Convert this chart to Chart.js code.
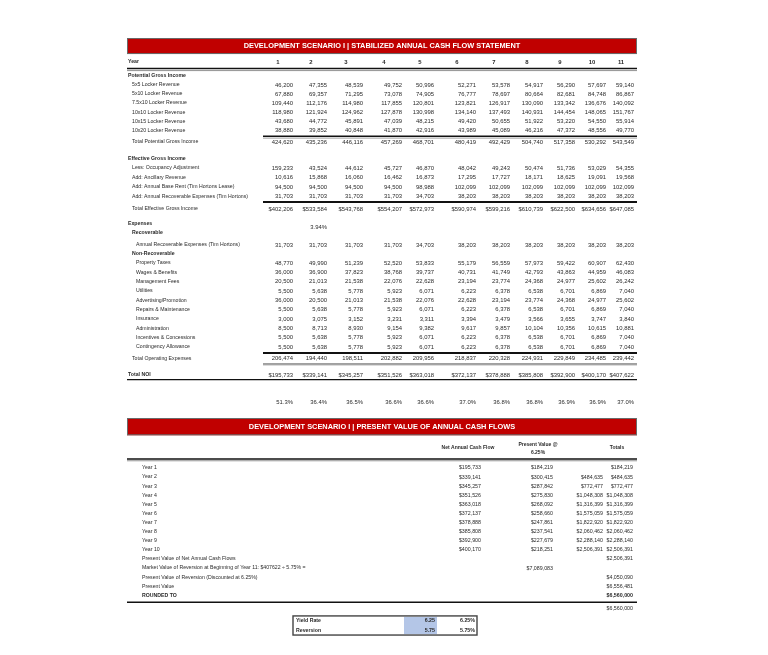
<!DOCTYPE html>
<html>
<head>
<meta charset="utf-8">
<script src="https://cdn.jsdelivr.net/npm/chart.js@4.4.1/dist/chart.umd.min.js"></script>
<style>
    html, body { margin: 0; padding: 0; background: #fff; }
    #wrap { position: relative; width: 768px; height: 655px; overflow: hidden; }
    #wrap canvas { position: absolute; }
</style>
</head>
<body>
<div id="wrap">
    <canvas id="flowChart"></canvas>
    <canvas id="pvChart"></canvas>
</div>
<script>
// ---------- data: stabilized annual cash flow ----------
const years = ['1', '2', '3', '4', '5', '6', '7', '8', '9', '10', '11'];

const pgiLabels = ['5x5 Locker Revenue', '5x10 Locker Revenue', '7.5x10 Locker Revenue', '10x10 Locker Revenue', '10x15 Locker Revenue', '10x20 Locker Revenue'];
const locker5x5 = [46200, 47355, 48539, 49752, 50996, 52271, 53578, 54917, 56290, 57697, 59140];
const locker5x10 = [67880, 69357, 71295, 73078, 74905, 76777, 78697, 80664, 82681, 84748, 86867];
const locker75x10 = [109440, 112176, 114980, 117855, 120801, 123821, 126917, 130090, 133342, 136676, 140092];
const locker10x10 = [118980, 121924, 124962, 127878, 130998, 134140, 137493, 140931, 144454, 148065, 151767];
const locker10x15 = [43680, 44772, 45891, 47039, 48215, 49420, 50655, 51922, 53220, 54550, 55914];
const locker10x20 = [38880, 39852, 40848, 41870, 42916, 43989, 45089, 46216, 47372, 48556, 49770];
const totalPgi = [424620, 435236, 446116, 457269, 468701, 480419, 492429, 504740, 517358, 530292, 543549];

const egiLabels = ['Less: Occupancy Adjustment', 'Add: Ancillary Revenue', 'Add: Annual Base Rent (Tim Hortons Lease)', 'Add: Annual Recoverable Expenses (Tim Hortons)'];
const occupancyAdj = [159233, 43524, 44612, 45727, 46870, 48042, 49243, 50474, 51736, 53029, 54355];
const ancillaryRev = [10616, 15868, 16060, 16462, 16873, 17295, 17727, 18171, 18625, 19091, 19568];
const baseRent = [94500, 94500, 94500, 94500, 98988, 102099, 102099, 102099, 102099, 102099, 102099];
const recoveries = [31703, 31703, 31703, 31703, 34703, 38203, 38203, 38203, 38203, 38203, 38203];
const totalEgi = [402206, 533584, 543768, 554207, 572973, 590974, 599216, 610739, 622500, 634656, 647085];

const recoverableRate = '3.94%';
const recoverableLabel = 'Annual Recoverable Expenses (Tim Hortons)';
const recoverableExp = [31703, 31703, 31703, 31703, 34703, 38203, 38203, 38203, 38203, 38203, 38203];

const nonRecLabels = ['Property Taxes', 'Wages & Benefits', 'Management Fees', 'Utilities', 'Advertising/Promotion', 'Repairs & Maintenance', 'Insurance', 'Administration', 'Incentives & Concessions', 'Contingency Allowance'];
const propertyTaxes = [48770, 49990, 51239, 52520, 53833, 55179, 56559, 57973, 59422, 60907, 62430];
const wages = [36000, 36900, 37823, 38768, 39737, 40731, 41749, 42793, 43863, 44959, 46083];
const mgmtFees = [20500, 21013, 21538, 22076, 22628, 23194, 23774, 24368, 24977, 25602, 26242];
const utilities = [5500, 5638, 5778, 5923, 6071, 6223, 6378, 6538, 6701, 6869, 7040];
const advertising = [36000, 20500, 21013, 21538, 22076, 22628, 23194, 23774, 24368, 24977, 25602];
const repairs = [5500, 5638, 5778, 5923, 6071, 6223, 6378, 6538, 6701, 6869, 7040];
const insurance = [3000, 3075, 3152, 3231, 3311, 3394, 3479, 3566, 3655, 3747, 3840];
const administration = [8500, 8713, 8930, 9154, 9382, 9617, 9857, 10104, 10356, 10615, 10881];
const incentives = [5500, 5638, 5778, 5923, 6071, 6223, 6378, 6538, 6701, 6869, 7040];
const contingency = [5500, 5638, 5778, 5923, 6071, 6223, 6378, 6538, 6701, 6869, 7040];
const totalOpex = [206474, 194440, 198511, 202882, 209956, 218837, 220328, 224931, 229849, 234485, 239442];
const totalNoi = [195733, 339141, 345257, 351526, 363018, 372137, 378888, 385808, 392900, 400170, 407622];
const expenseRatio = [51.3, 36.4, 36.5, 36.6, 36.6, 37.0, 36.8, 36.8, 36.9, 36.9, 37.0];

// ---------- data: present value of annual cash flows ----------
const pvYears = ['Year 1', 'Year 2', 'Year 3', 'Year 4', 'Year 5', 'Year 6', 'Year 7', 'Year 8', 'Year 9', 'Year 10'];
const netCashFlow = [195733, 339141, 345257, 351526, 363018, 372137, 378888, 385808, 392900, 400170];
const presentValue = [184219, 300415, 287842, 275830, 268092, 258660, 247861, 237541, 227679, 218251];
const runningTotal = [184219, 484635, 772477, 1048308, 1316399, 1575059, 1822920, 2060462, 2288140, 2506391];
const pvCashFlows = 2506391;
const reversionValue = 7089083;
const pvReversion = 4050090;
const pvTotal = 6556481;
const roundedValue = 6560000;
const rateLabels = ['Yield Rate', 'Reversion'];
const rateInputs = [6.25, 5.75];

// ---------- layout ----------
const FONT = '"Liberation Sans", Arial, sans-serif';
const F_LABEL = '5.2px ' + FONT;
const F_LABEL_B = 'bold 5.2px ' + FONT;
const F_HEAD_B = 'bold 5px ' + FONT;
const F_NUM = '5.9px ' + FONT;
const F_NUM_B = 'bold 5.9px ' + FONT;
const F_PV = '5.3px ' + FONT;
const F_PV_B = 'bold 5.3px ' + FONT;
const F_TITLE = 'bold 7.4px ' + FONT;
const RED = '#c00000';
const INK = '#2a2a2a';

const fmt = v => v.toLocaleString('en-US');
const money = v => '$' + v.toLocaleString('en-US');
const pct = v => v.toFixed(1) + '%';

// both sheets: x in px from canvas left, y in sheet rows
const topBox = { left: 120, top: 36, width: 530, height: 377, rowPx: 9.2 };
const topColRight = [173, 207, 243, 282, 314, 356, 390, 423, 455, 486, 514];
const topColCenter = [158, 191, 226, 264, 300, 337, 374, 407, 440, 472, 501];
const tableLeft = 7, tableRight = 517, numLeft = 143, titleCenter = 262;

const pvBox = { left: 120, top: 413, width: 530, height: 242, rowPx: 9.1 };

function cellRow(rowY, cells) {
    return {
        data: cells.map(c => ({ x: c.x, y: rowY })),
        texts: cells.map(c => c.text),
        aligns: cells.map(c => c.align || 'right'),
        fonts: cells.map(c => c.font || F_NUM),
        colors: cells.map(c => c.color || INK),
        pointRadius: 0,
        showLine: false
    };
}

function labelRow(rowY, label, labelX, labelFont, values, format) {
    const cells = [{ x: labelX, text: label, align: 'left', font: labelFont }];
    if (values) {
        values.forEach((v, i) => cells.push({ x: topColRight[i], text: format(v) }));
    }
    return cellRow(rowY, cells);
}

function buildTopSheet() {
    const ds = [];
    const l0 = 8, l1 = 12, l2 = 16;
    ds.push(cellRow(1.09, [{ x: titleCenter, text: 'DEVELOPMENT SCENARIO I | STABILIZED ANNUAL CASH FLOW STATEMENT', align: 'center', font: F_TITLE, color: '#fff' }]));
    ds.push(cellRow(2.83, [{ x: l0, text: 'Year', align: 'left', font: F_LABEL_B }].concat(
        years.map((y, i) => ({ x: topColCenter[i], text: y, align: 'center', font: F_NUM_B })))));

    ds.push(labelRow(4.35, 'Potential Gross Income', l0, F_LABEL_B));
    const pgi = [locker5x5, locker5x10, locker75x10, locker10x10, locker10x15, locker10x20];
    pgi.forEach((vals, i) => ds.push(labelRow(5.33 + i * 0.98, pgiLabels[i], l1, F_LABEL, vals, fmt)));
    ds.push(labelRow(11.52, 'Total Potential Gross Income', l1, F_LABEL, totalPgi, fmt));

    ds.push(labelRow(13.37, 'Effective Gross Income', l0, F_LABEL_B));
    const egi = [occupancyAdj, ancillaryRev, baseRent, recoveries];
    egi.forEach((vals, i) => ds.push(labelRow(14.35 + i * 1.03, egiLabels[i], l1, F_LABEL, vals, fmt)));
    ds.push(labelRow(18.8, 'Total Effective Gross Income', l1, F_LABEL, totalEgi, money));

    ds.push(labelRow(20.43, 'Expenses', l0, F_LABEL_B));
    ds.push(cellRow(20.8, [{ x: topColRight[1], text: recoverableRate }]));
    ds.push(labelRow(21.41, 'Recoverable', l1, F_LABEL_B));
    ds.push(labelRow(22.72, recoverableLabel, l2, F_LABEL, recoverableExp, fmt));
    ds.push(labelRow(23.7, 'Non-Recoverable', l1, F_LABEL_B));
    const nonRec = [propertyTaxes, wages, mgmtFees, utilities, advertising, repairs, insurance, administration, incentives, contingency];
    nonRec.forEach((vals, i) => ds.push(labelRow(24.67 + i * 1.014, nonRecLabels[i], l2, F_LABEL, vals, fmt)));
    ds.push(labelRow(35.05, 'Total Operating Expenses', l1, F_LABEL, totalOpex, fmt));
    ds.push(labelRow(36.85, 'Total NOI', l0, F_LABEL_B, totalNoi, money));
    ds.push(cellRow(39.78, expenseRatio.map((v, i) => ({ x: topColRight[i], text: pct(v) }))));

    return {
        datasets: ds,
        fills: [{ x0: tableLeft, x1: tableRight, y0: 0.22, y1: 1.96, color: RED, border: '#6a6a6a' }],
        rules: [
            { x0: tableLeft, x1: tableRight, y: 3.53, w: 1.6, color: '#111' },
            { x0: tableLeft, x1: tableRight, y: 3.76, w: 0.8, color: '#777' },
            { x0: numLeft, x1: tableRight, y: 10.9, w: 1.6, color: '#111' },
            { x0: numLeft, x1: tableRight, y: 11.1, w: 0.8, color: '#888' },
            { x0: numLeft, x1: tableRight, y: 18.04, w: 2, color: '#111' },
            { x0: numLeft, x1: tableRight, y: 34.46, w: 2, color: '#111' },
            { x0: numLeft, x1: tableRight, y: 35.62, w: 1, color: '#888' },
            { x0: numLeft, x1: tableRight, y: 35.74, w: 1, color: '#888' },
            { x0: tableLeft, x1: tableRight, y: 37.34, w: 1.2, color: '#111' }
        ]
    };
}

function buildPvSheet() {
    const ds = [];
    const labelX = 22, netRight = 361, pvRight = 433, totARight = 483, totBRight = 513;
    ds.push(cellRow(1.5, [{ x: titleCenter, text: 'DEVELOPMENT SCENARIO I | PRESENT VALUE OF ANNUAL CASH FLOWS', align: 'center', font: F_TITLE, color: '#fff' }]));
    ds.push(cellRow(3.85, [
        { x: 348, text: 'Net Annual Cash Flow', align: 'center', font: F_HEAD_B },
        { x: 497, text: 'Totals', align: 'center', font: F_HEAD_B }
    ]));
    ds.push(cellRow(3.45, [{ x: 418, text: 'Present Value @', align: 'center', font: F_HEAD_B }]));
    ds.push(cellRow(4.3, [{ x: 418, text: '6.25%', align: 'center', font: F_HEAD_B }]));

    pvYears.forEach((yr, i) => {
        const cells = [
            { x: labelX, text: yr, align: 'left', font: F_LABEL },
            { x: netRight, text: money(netCashFlow[i]), font: F_PV },
            { x: pvRight, text: money(presentValue[i]), font: F_PV }
        ];
        if (i > 0) cells.push({ x: totARight, text: money(runningTotal[i]), font: F_PV });
        cells.push({ x: totBRight, text: money(runningTotal[i]), font: F_PV });
        ds.push(cellRow(6.04 + i, cells));
    });

    ds.push(cellRow(16.04, [
        { x: labelX, text: 'Present Value of Net Annual Cash Flows', align: 'left', font: F_LABEL },
        { x: totBRight, text: money(pvCashFlows), font: F_PV }
    ]));
    ds.push(cellRow(17.04, [
        { x: labelX, text: 'Market Value of Reversion at Beginning of Year 11: $' + totalNoi[10] + ' \u00f7 ' + rateInputs[1].toFixed(2) + '% =', align: 'left', font: F_LABEL },
        { x: pvRight, text: money(reversionValue), font: F_PV }
    ]));
    ds.push(cellRow(18.04, [
        { x: labelX, text: 'Present Value of Reversion (Discounted at ' + rateInputs[0].toFixed(2) + '%)', align: 'left', font: F_LABEL },
        { x: totBRight, text: money(pvReversion), font: F_PV }
    ]));
    ds.push(cellRow(19.04, [
        { x: labelX, text: 'Present Value', align: 'left', font: F_LABEL },
        { x: totBRight, text: money(pvTotal), font: F_PV }
    ]));
    ds.push(cellRow(20.04, [
        { x: labelX, text: 'ROUNDED TO', align: 'left', font: F_LABEL_B },
        { x: totBRight, text: money(roundedValue), font: F_PV_B }
    ]));
    ds.push(cellRow(21.54, [{ x: totBRight, text: money(roundedValue), font: F_PV }]));

    rateLabels.forEach((lab, i) => {
        ds.push(cellRow(22.86 + i, [
            { x: 176, text: lab, align: 'left', font: F_LABEL_B },
            { x: 315, text: rateInputs[i].toFixed(2), font: F_PV_B },
            { x: 355, text: rateInputs[i].toFixed(2) + '%', font: F_PV_B }
        ]));
    });

    return {
        datasets: ds,
        fills: [
            { x0: tableLeft, x1: tableRight, y0: 0.55, y1: 2.45, color: RED, border: '#6a6a6a' },
            { x0: 284, x1: 317, y0: 22.4, y1: 24.3, color: '#b4c6e7' }
        ],
        boxes: [{ x0: 173, x1: 357, y0: 22.3, y1: 24.4, color: '#444', w: 1.4 }],
        rules: [
            { x0: tableLeft, x1: tableRight, y: 5.05, w: 1.6, color: '#111' },
            { x0: tableLeft, x1: tableRight, y: 5.25, w: 0.8, color: '#777' },
            { x0: tableLeft, x1: tableRight, y: 20.8, w: 1.4, color: '#111' }
        ]
    };
}

function makeSheetPlugin(sheet) {
    return {
        id: 'sheet',
        beforeDatasetsDraw(chart) {
            const ctx = chart.ctx;
            const px = v => chart.scales.x.getPixelForValue(v);
            const py = v => chart.scales.y.getPixelForValue(v);
            ctx.save();
            sheet.fills.forEach(f => {
                const x0 = px(f.x0), x1 = px(f.x1), y0 = py(f.y0), y1 = py(f.y1);
                ctx.fillStyle = f.color;
                ctx.fillRect(x0, y0, x1 - x0, y1 - y0);
                if (f.border) {
                    ctx.strokeStyle = f.border;
                    ctx.lineWidth = 1;
                    ctx.strokeRect(x0 + 0.5, y0 + 0.5, x1 - x0 - 1, y1 - y0 - 1);
                }
            });
            (sheet.boxes || []).forEach(b => {
                ctx.strokeStyle = b.color;
                ctx.lineWidth = b.w;
                ctx.strokeRect(px(b.x0), py(b.y0), px(b.x1) - px(b.x0), py(b.y1) - py(b.y0));
            });
            sheet.rules.forEach(r => {
                ctx.strokeStyle = r.color;
                ctx.lineWidth = r.w;
                ctx.beginPath();
                ctx.moveTo(px(r.x0), py(r.y));
                ctx.lineTo(px(r.x1), py(r.y));
                ctx.stroke();
            });
            ctx.restore();
        },
        afterDatasetsDraw(chart) {
            const ctx = chart.ctx;
            ctx.save();
            ctx.textBaseline = 'middle';
            chart.data.datasets.forEach((ds, i) => {
                const meta = chart.getDatasetMeta(i);
                meta.data.forEach((pt, j) => {
                    const txt = ds.texts[j];
                    if (!txt) return;
                    ctx.font = ds.fonts[j];
                    ctx.fillStyle = ds.colors[j];
                    ctx.textAlign = ds.aligns[j];
                    ctx.fillText(txt, pt.x, pt.y);
                });
            });
            ctx.restore();
        }
    };
}

function createSheetChart(canvasId, box, sheet) {
    const canvas = document.getElementById(canvasId);
    canvas.width = box.width;
    canvas.height = box.height;
    canvas.style.left = box.left + 'px';
    canvas.style.top = box.top + 'px';
    return new Chart(canvas.getContext('2d'), {
        type: 'scatter',
        data: { datasets: sheet.datasets },
        options: {
            responsive: false,
            animation: false,
            events: [],
            layout: { padding: 0 },
            plugins: { legend: { display: false }, tooltip: { enabled: false }, title: { display: false } },
            scales: {
                x: { type: 'linear', display: false, min: 0, max: box.width },
                y: { type: 'linear', display: false, reverse: true, min: 0, max: box.height / box.rowPx }
            }
        },
        plugins: [makeSheetPlugin(sheet)]
    });
}

createSheetChart('flowChart', topBox, buildTopSheet());
createSheetChart('pvChart', pvBox, buildPvSheet());
</script>
</body>
</html>
